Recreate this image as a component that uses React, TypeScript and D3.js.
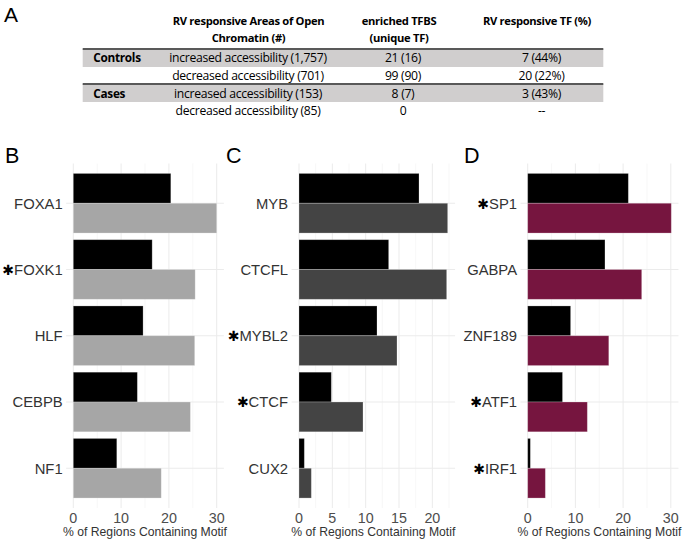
import React from "react";
import * as d3 from "d3";

// ---------- Table data ----------
const tableHeaders = [
  ["RV responsive Areas of Open", "Chromatin (#)"],
  ["enriched TFBS", "(unique TF)"],
  ["RV responsive TF (%)"],
];
const groupLabels = ["Controls", "", "Cases", ""];
const areasCol = [
  "increased accessibility (1,757)",
  "decreased accessibility (701)",
  "increased accessibility (153)",
  "decreased accessibility (85)",
];
const tfbsCol = ["21 (16)", "99 (90)", "8 (7)", "0"];
const tfCol = ["7 (44%)", "20 (22%)", "3 (43%)", "--"];

// ---------- Panel B ----------
const bCategories = ["FOXA1", "FOXK1", "HLF", "CEBPB", "NF1"];
const bStar = [false, true, false, false, false];
const bBlack = [20.4, 16.5, 14.6, 13.4, 9.1];
const bColored = [30.0, 25.5, 25.4, 24.5, 18.4];
const bTicks = [0, 10, 20, 30];

// ---------- Panel C ----------
const cCategories = ["MYB", "CTCFL", "MYBL2", "CTCF", "CUX2"];
const cStar = [false, false, true, true, false];
const cBlack = [18.0, 13.45, 11.7, 4.85, 0.8];
const cColored = [22.3, 22.15, 14.7, 9.6, 1.85];
const cTicks = [0, 5, 10, 15, 20];

// ---------- Panel D ----------
const dCategories = ["SP1", "GABPA", "ZNF189", "ATF1", "IRF1"];
const dStar = [true, false, false, true, true];
const dBlack = [21.1, 16.2, 9.0, 7.3, 0.56];
const dColored = [30.1, 23.9, 17.0, 12.5, 3.7];
const dTicks = [0, 10, 20, 30];

const axisTitle = "% of Regions Containing Motif";

type PanelProps = {
  letter: string;
  letterX: number;
  x0: number;
  pxPerUnit: number;
  categories: string[];
  star: boolean[];
  black: number[];
  colored: number[];
  ticks: number[];
  color: string;
};

const PANEL_TOP = 163.5;
const PANEL_BOTTOM = 508;
const CHART_FONT = "'Liberation Sans', Arial, sans-serif";

function Panel(p: PanelProps) {
  const maxV = d3.max(p.colored.concat(p.black)) as number;
  const dom: [number, number] = [-0.05 * maxV, 1.05 * maxV];
  const x = d3
    .scaleLinear()
    .domain(dom)
    .range([p.x0 + dom[0] * p.pxPerUnit, p.x0 + dom[1] * p.pxPerUnit]);
  const y = d3
    .scaleBand<string>()
    .domain(p.categories)
    .range([PANEL_TOP, PANEL_BOTTOM])
    .paddingInner(0.1)
    .paddingOuter(0.15);
  const sub = d3
    .scaleBand<string>()
    .domain(["black", "colored"])
    .range([0, y.bandwidth()]);
  const step = p.ticks[1] - p.ticks[0];
  const minor: number[] = [];
  for (let v = step / 2; v < dom[1]; v += step) {
    if (!p.ticks.includes(v)) minor.push(v);
  }
  const [xl, xr] = x.range();
  return (
    <g>
      <text
        x={p.letterX}
        y={162.7}
        fontFamily={CHART_FONT}
        fontSize={21.5}
        fill="#000"
      >
        {p.letter}
      </text>
      {minor.map((v) => (
        <line
          key={"mn" + v}
          x1={x(v)}
          x2={x(v)}
          y1={PANEL_TOP}
          y2={PANEL_BOTTOM}
          stroke="#f2f2f2"
          strokeWidth={0.6}
        />
      ))}
      {p.ticks.map((v) => (
        <line
          key={"mj" + v}
          x1={x(v)}
          x2={x(v)}
          y1={PANEL_TOP}
          y2={PANEL_BOTTOM}
          stroke="#ebebeb"
          strokeWidth={1}
        />
      ))}
      {p.categories.map((c) => (
        <line
          key={"hg" + c}
          x1={xl}
          x2={xr}
          y1={(y(c) as number) + y.bandwidth() / 2}
          y2={(y(c) as number) + y.bandwidth() / 2}
          stroke="#ebebeb"
          strokeWidth={1}
        />
      ))}
      {p.categories.map((c, i) => (
        <g key={"bar" + c}>
          <rect
            x={x(0)}
            y={(y(c) as number) + (sub("black") as number)}
            width={x(p.black[i]) - x(0)}
            height={sub.bandwidth()}
            fill="#000"
            stroke="rgba(255,255,255,0.3)"
            strokeWidth={0.8}
          />
          <rect
            x={x(0)}
            y={(y(c) as number) + (sub("colored") as number)}
            width={x(p.colored[i]) - x(0)}
            height={sub.bandwidth()}
            fill={p.color}
            stroke="rgba(255,255,255,0.3)"
            strokeWidth={0.8}
          />
        </g>
      ))}
      {p.categories.map((c, i) => (
        <text
          key={"lb" + c}
          x={xl - 3.5}
          y={(y(c) as number) + y.bandwidth() / 2}
          dy="0.36em"
          textAnchor="end"
          fontFamily={CHART_FONT}
          fontSize={14.8}
          fill="#333"
        >
          {p.star[i] ? (
            <tspan fill="#000" fontSize={14} fontFamily="'DejaVu Sans'">
              {"✱"}
            </tspan>
          ) : null}
          {c}
        </text>
      ))}
      {p.ticks.map((v) => (
        <text
          key={"tk" + v}
          x={x(v)}
          y={523}
          textAnchor="middle"
          fontFamily={CHART_FONT}
          fontSize={14.3}
          fill="#4d4d4d"
        >
          {String(v)}
        </text>
      ))}
      <text
        x={(xl + xr) / 2}
        y={535.5}
        textAnchor="middle"
        fontFamily={CHART_FONT}
        fontSize={12.2}
        fill="#333"
      >
        {axisTitle}
      </text>
    </g>
  );
}

function Table() {
  const font = "'Open Sans', 'Noto Sans', sans-serif";
  const rowY = [58, 76, 93.5, 111];
  const colX = [248, 403, 541.5];
  const headX = [248.5, 399, 537];
  const left = 82.7;
  const right = 603.3;
  return (
    <g>
      <text x={4} y={22} fontFamily={CHART_FONT} fontSize={21} fill="#000">
        A
      </text>
      <rect x={left} y={49} width={right - left} height={18} fill="#d0cece" />
      <rect x={left} y={84} width={right - left} height={18} fill="#d0cece" />
      <line x1={left} x2={right} y1={49} y2={49} stroke="#595959" strokeWidth={2} />
      <line x1={left} x2={right} y1={84} y2={84} stroke="#595959" strokeWidth={2} />
      {tableHeaders.map((lines, ci) =>
        lines.map((t, li) => (
          <text
            key={"h" + ci + li}
            x={headX[ci]}
            y={25 + li * 16.7}
            textAnchor="middle"
            fontFamily={font}
            fontSize={11.2}
            fontWeight="bold"
            fill="#000"
            letterSpacing={-0.3}
          >
            {t}
          </text>
        ))
      )}
      {groupLabels.map((g, i) =>
        g ? (
          <text
            key={"g" + i}
            x={93.3}
            y={rowY[i] + 4}
            fontFamily={font}
            fontSize={11.8}
            fontWeight="bold"
            fill="#000"
            letterSpacing={-0.3}
          >
            {g}
          </text>
        ) : null
      )}
      {[areasCol, tfbsCol, tfCol].map((col, ci) =>
        col.map((t, ri) => (
          <text
            key={"c" + ci + ri}
            x={colX[ci]}
            y={rowY[ri] + 4}
            textAnchor="middle"
            fontFamily={font}
            fontSize={12.2}
            fill="#000"
            letterSpacing={-0.3}
          >
            {t}
          </text>
        ))
      )}
    </g>
  );
}

export default function App() {
  return (
    <svg
      width={685}
      height={540}
      style={{ position: "absolute", left: 0, top: 0, background: "#fff" }}
    >
      <rect x={0} y={0} width={685} height={540} fill="#fff" />
      <Table />
      <Panel
        letter="B"
        letterX={5}
        x0={73.3}
        pxPerUnit={4.78}
        categories={bCategories}
        star={bStar}
        black={bBlack}
        colored={bColored}
        ticks={bTicks}
        color="#a6a6a6"
      />
      <Panel
        letter="C"
        letterX={226}
        x0={299}
        pxPerUnit={6.667}
        categories={cCategories}
        star={cStar}
        black={cBlack}
        colored={cColored}
        ticks={cTicks}
        color="#444444"
      />
      <Panel
        letter="D"
        letterX={464}
        x0={527.7}
        pxPerUnit={4.77}
        categories={dCategories}
        star={dStar}
        black={dBlack}
        colored={dColored}
        ticks={dTicks}
        color="#76153f"
      />
    </svg>
  );
}
